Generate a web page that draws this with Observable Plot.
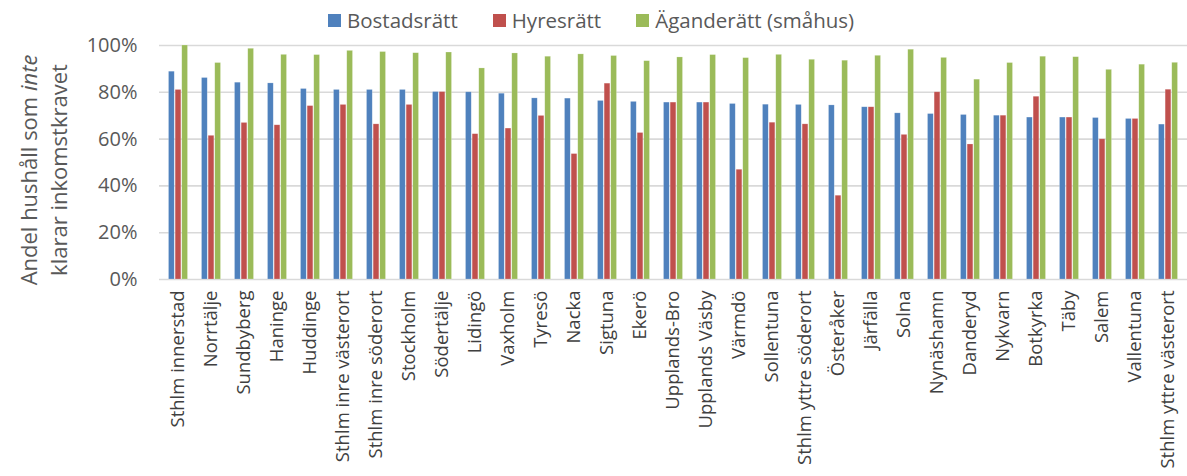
<!DOCTYPE html>
<html>
<head>
<meta charset="utf-8">
<script src="https://cdn.jsdelivr.net/npm/d3@7"></script>
<script src="https://cdn.jsdelivr.net/npm/@observablehq/plot@0.6"></script>
<style>
  body { margin: 0; background: #fff; font-family: "Open Sans", sans-serif; }
  #legend { height: 24px; position: relative; font-size: 20.5px; color: #595959; }
  #legend .row { position: absolute; left: 328px; top: 8px; height: 24px; display: flex; align-items: center; gap: 35px; white-space: nowrap; }
  #legend .item { display: flex; align-items: center; gap: 6px; line-height: 24px; }
  #legend .sw { width: 13px; height: 13px; display: inline-block; }
  svg { display: block; }
</style>
</head>
<body>
<div id="legend"><div class="row" id="legendRow"></div></div>
<div id="chart"></div>
<script>
const categories = ["Sthlm innerstad","Norrtälje","Sundbyberg","Haninge","Huddinge","Sthlm inre västerort","Sthlm inre söderort","Stockholm","Södertälje","Lidingö","Vaxholm","Tyresö","Nacka","Sigtuna","Ekerö","Upplands-Bro","Upplands Väsby","Värmdö","Sollentuna","Sthlm yttre söderort","Österåker","Järfälla","Solna","Nynäshamn","Danderyd","Nykvarn","Botkyrka","Täby","Salem","Vallentuna","Sthlm yttre västerort"];
const seriesNames = ["Bostadsrätt","Hyresrätt","Äganderätt (småhus)"];
const seriesColors = ["#4F81BD","#C0504D","#9BBB59"];
const bostadsratt = [88.8,86.1,84.1,83.8,81.4,81.0,81.0,81.0,80.1,80.0,79.4,77.4,77.3,76.3,75.9,75.6,75.6,75.0,74.7,74.6,74.4,73.6,71.0,70.7,70.3,70.0,69.2,69.2,69.0,68.6,66.2];
const hyresratt = [81.0,61.4,66.9,65.9,74.1,74.6,66.3,74.6,80.1,62.1,64.5,69.9,53.6,83.7,62.6,75.6,75.6,46.9,67.0,66.3,35.8,73.6,61.8,80.0,57.7,70.0,78.1,69.2,59.9,68.6,81.1];
const aganderatt = [100,92.5,98.6,96.0,95.9,97.7,97.2,96.7,97.0,90.2,96.6,95.2,96.2,95.5,93.3,94.9,95.9,94.6,96.0,93.9,93.5,95.6,98.2,94.7,85.4,92.5,95.2,95.0,89.6,91.8,92.6];
const yTicks = [0,20,40,60,80,100];

const seriesValues = [bostadsratt, hyresratt, aganderatt];

// legend
const lg = document.getElementById("legendRow");
seriesNames.forEach((n,i) => {
  const it = document.createElement("span"); it.className = "item";
  const sw = document.createElement("span"); sw.className = "sw"; sw.style.background = seriesColors[i];
  const t = document.createElement("span"); t.textContent = n;
  it.appendChild(sw); it.appendChild(t); lg.appendChild(it);
});

const width = 1187, height = 452;
const marginLeft = 159, marginRight = 0;
const paddingInner = 0.4, paddingOuter = 0.2;
const step = (width - marginLeft - marginRight) / categories.length;
const bw = step * (1 - paddingInner);
const sub = bw / 3;
const gap = 0.5;

const barMarks = seriesValues.map((vals, i) =>
  Plot.barY(categories.map((c, k) => ({cat: c, v: vals[k]})), {
    x: "cat", y: "v", fill: seriesColors[i],
    insetLeft: i * sub + gap, insetRight: (2 - i) * sub + gap,
    stroke: "#ffffff", strokeOpacity: 0.35, strokeWidth: 0.6
  })
);

const chart = Plot.plot({
  width, height,
  marginTop: 21, marginBottom: 197, marginLeft, marginRight,
  style: {fontFamily: "'Open Sans', sans-serif", color: "#595959", background: "#fff", overflow: "visible"},
  x: {domain: categories, paddingInner, paddingOuter, align: 0.5},
  y: {domain: [0, 100]},
  marks: [
    Plot.ruleY(yTicks, {stroke: "#d9d9d9", strokeWidth: 1.6}),
    ...barMarks,
    Plot.axisX({tickRotate: -90, tickSize: 0, tickPadding: 11, fontSize: 18.5, label: null, fill: "#404040"}),
    Plot.axisY({ticks: yTicks, tickFormat: d => d + "%", tickSize: 0, tickPadding: 22, fontSize: 20, label: null, fill: "#595959"})
  ]
});
document.getElementById("chart").appendChild(chart);

// y-axis title (two lines, rotated)
const svg = d3.select(chart);
const title = svg.append("text")
  .attr("transform", "translate(45,146) rotate(-90)")
  .attr("text-anchor", "middle")
  .attr("font-size", 22)
  .attr("fill", "#595959")
  .attr("font-family", "'Open Sans', sans-serif");
const l1 = title.append("tspan").attr("x", 0).attr("dy", -8);
l1.append("tspan").text("Andel hushåll som ");
l1.append("tspan").attr("font-style", "italic").text("inte");
title.append("tspan").attr("x", 0).attr("dy", 30).text("klarar inkomstkravet");
</script>
</body>
</html>
